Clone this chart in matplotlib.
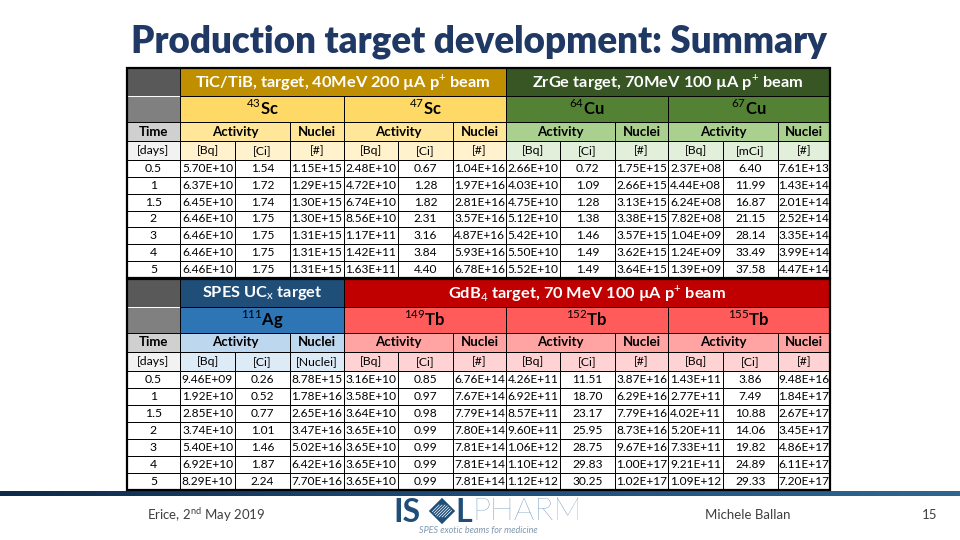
import matplotlib
matplotlib.use("Agg")
import matplotlib.pyplot as plt
from matplotlib.patches import Rectangle, Polygon
from matplotlib.colors import LinearSegmentedColormap
import numpy as np

plt.rcParams['font.family'] = ['Lato', 'DejaVu Sans']
plt.rcParams['mathtext.fontset'] = 'custom'
plt.rcParams['mathtext.rm'] = 'Lato'
plt.rcParams['mathtext.bf'] = 'Lato:bold'

# ---------------- data ----------------
time_days = ["0.5", "1", "1.5", "2", "3", "4", "5"]

sc43_bq = [5.70e10, 6.37e10, 6.45e10, 6.46e10, 6.46e10, 6.46e10, 6.46e10]
sc43_ci = [1.54, 1.72, 1.74, 1.75, 1.75, 1.75, 1.75]
sc43_n = [1.15e15, 1.29e15, 1.30e15, 1.30e15, 1.31e15, 1.31e15, 1.31e15]

sc47_bq = [2.48e10, 4.72e10, 6.74e10, 8.56e10, 1.17e11, 1.42e11, 1.63e11]
sc47_ci = [0.67, 1.28, 1.82, 2.31, 3.16, 3.84, 4.40]
sc47_n = [1.04e16, 1.97e16, 2.81e16, 3.57e16, 4.87e16, 5.93e16, 6.78e16]

cu64_bq = [2.66e10, 4.03e10, 4.75e10, 5.12e10, 5.42e10, 5.50e10, 5.52e10]
cu64_ci = [0.72, 1.09, 1.28, 1.38, 1.46, 1.49, 1.49]
cu64_n = [1.75e15, 2.66e15, 3.13e15, 3.38e15, 3.57e15, 3.62e15, 3.64e15]

cu67_bq = [2.37e8, 4.44e8, 6.24e8, 7.82e8, 1.04e9, 1.24e9, 1.39e9]
cu67_mci = [6.40, 11.99, 16.87, 21.15, 28.14, 33.49, 37.58]
cu67_n = [7.61e13, 1.43e14, 2.01e14, 2.52e14, 3.35e14, 3.99e14, 4.47e14]

ag111_bq = [9.46e9, 1.92e10, 2.85e10, 3.74e10, 5.40e10, 6.92e10, 8.29e10]
ag111_ci = [0.26, 0.52, 0.77, 1.01, 1.46, 1.87, 2.24]
ag111_n = [8.78e15, 1.78e16, 2.65e16, 3.47e16, 5.02e16, 6.42e16, 7.70e16]

tb149_bq = [3.16e10, 3.58e10, 3.64e10, 3.65e10, 3.65e10, 3.65e10, 3.65e10]
tb149_ci = [0.85, 0.97, 0.98, 0.99, 0.99, 0.99, 0.99]
tb149_n = [6.76e14, 7.67e14, 7.79e14, 7.80e14, 7.81e14, 7.81e14, 7.81e14]

tb152_bq = [4.26e11, 6.92e11, 8.57e11, 9.60e11, 1.06e12, 1.10e12, 1.12e12]
tb152_ci = [11.51, 18.70, 23.17, 25.95, 28.75, 29.83, 30.25]
tb152_n = [3.87e16, 6.29e16, 7.79e16, 8.73e16, 9.67e16, 1.00e17, 1.02e17]

tb155_bq = [1.43e11, 2.77e11, 4.02e11, 5.20e11, 7.33e11, 9.21e11, 1.09e12]
tb155_ci = [3.86, 7.49, 10.88, 14.06, 19.82, 24.89, 29.33]
tb155_n = [9.48e16, 1.84e17, 2.67e17, 3.45e17, 4.86e17, 6.11e17, 7.20e17]

# ---------------- figure ----------------
fig = plt.figure(figsize=(9.6, 5.4), dpi=100)
ax = fig.add_axes([0, 0, 1, 1])
ax.set_xlim(0, 960)
ax.set_ylim(540, 0)
ax.axis('off')

xs = [127, 180, 235, 290, 344, 398, 453, 506, 560, 615, 668, 723, 778, 830]

PAL = {
    'gray': ['#595959', '#808080', '#d0d0d0', '#f2f2f2'],
    'gold': ['#bf8f00', '#ffd966', '#ffe699', '#fff2cc'],
    'green': ['#375623', '#548235', '#a9d08e', '#e2efda'],
    'blue': ['#1f4e79', '#2e75b6', '#bdd7ee', '#ddebf7'],
    'red': ['#c00000', '#ff5b5b', '#ffa3a3', '#ffd3d3'],
}


def cell(c0, c1, y0, y1, fc, ec='black', lw=0.7):
    ax.add_patch(Rectangle((xs[c0], y0), xs[c1] - xs[c0], y1 - y0,
                           facecolor=fc, edgecolor=ec, linewidth=lw, zorder=1))


def ctext(c0, c1, y0, y1, s, color='black', size=8.5, weight='normal', dy=0.0):
    ax.text((xs[c0] + xs[c1]) / 2, (y0 + y1) / 2 + dy, s, ha='center', va='center',
            color=color, fontsize=size, fontweight=weight, zorder=3)


def fmt_e(v):
    return f"{v:.2E}"


def draw_table(rows, titles, isotopes, units, cols, data_y0, data_y1):
    r0, r1, r2, r3 = rows
    cell(0, 1, r0, r1, PAL['gray'][0], ec='white')
    cell(0, 1, r1, r2, PAL['gray'][1], ec='white')
    cell(0, 1, r2, r3, PAL['gray'][2])
    cell(0, 1, r3, data_y0, PAL['gray'][3])
    ctext(0, 1, r2, r3, 'Time', size=9.5, weight='bold')
    ctext(0, 1, r3, data_y0, '[days]', size=8.8)
    for (c0, c1, label, pal) in titles:
        cell(c0, c1, r0, r1, PAL[pal][0], ec='black')
        ctext(c0, c1, r0, r1, label, color='white', size=11.8, weight='bold')
    for k, (label, pal) in enumerate(isotopes):
        c0 = 1 + 3 * k
        cell(c0, c0 + 3, r1, r2, PAL[pal][1], ec='black')
        ctext(c0, c0 + 3, r1, r2, label, size=12, dy=-1)
        cell(c0, c0 + 2, r2, r3, PAL[pal][2])
        cell(c0 + 2, c0 + 3, r2, r3, PAL[pal][2])
        ctext(c0, c0 + 2, r2, r3, 'Activity', size=9.5, weight='bold')
        ctext(c0 + 2, c0 + 3, r2, r3, 'Nuclei', size=9.5, weight='bold')
        for j in range(3):
            cell(c0 + j, c0 + j + 1, r3, data_y0, PAL[pal][3])
            ctext(c0 + j, c0 + j + 1, r3, data_y0, units[k][j], size=8.8)
    nrow = len(time_days)
    h = (data_y1 - data_y0) / nrow
    for i in range(nrow):
        y0 = data_y0 + i * h
        y1 = y0 + h
        cell(0, 1, y0, y1, 'white')
        ctext(0, 1, y0, y1, time_days[i], size=8.8)
        for k, (bq, ci, nn) in enumerate(cols):
            c0 = 1 + 3 * k
            vals = [fmt_e(bq[i]), f"{ci[i]:.2f}", fmt_e(nn[i])]
            for j in range(3):
                cell(c0 + j, c0 + j + 1, y0, y1, 'white')
                ctext(c0 + j, c0 + j + 1, y0, y1, vals[j], size=8.6)
    ax.add_patch(Rectangle((xs[0], r0), xs[-1] - xs[0], data_y1 - r0, fill=False,
                           edgecolor='black', linewidth=1.6, zorder=4))


draw_table(
    (68, 96, 122, 141),
    [(1, 7, 'TiC/TiB, target, 40MeV 200 \u00b5A p$^{+}$ beam', 'gold'),
     (7, 13, 'ZrGe target, 70MeV 100 \u00b5A p$^{+}$ beam', 'green')],
    [(r'$^{43}\mathbf{Sc}$', 'gold'), (r'$^{47}\mathbf{Sc}$', 'gold'),
     (r'$^{64}\mathbf{Cu}$', 'green'), (r'$^{67}\mathbf{Cu}$', 'green')],
    [['[Bq]', '[Ci]', '[#]'], ['[Bq]', '[Ci]', '[#]'],
     ['[Bq]', '[Ci]', '[#]'], ['[Bq]', '[mCi]', '[#]']],
    [(sc43_bq, sc43_ci, sc43_n), (sc47_bq, sc47_ci, sc47_n),
     (cu64_bq, cu64_ci, cu64_n), (cu67_bq, cu67_mci, cu67_n)],
    160, 278)

draw_table(
    (279, 307, 333, 352),
    [(1, 4, r'SPES UC$_{\mathrm{x}}$ target', 'blue'),
     (4, 13, 'GdB$_{4}$ target, 70 MeV 100 \u00b5A p$^{+}$ beam', 'red')],
    [(r'$^{111}\mathbf{Ag}$', 'blue'), (r'$^{149}\mathbf{Tb}$', 'red'),
     (r'$^{152}\mathbf{Tb}$', 'red'), (r'$^{155}\mathbf{Tb}$', 'red')],
    [['[Bq]', '[Ci]', '[Nuclei]'], ['[Bq]', '[Ci]', '[#]'],
     ['[Bq]', '[Ci]', '[#]'], ['[Bq]', '[Ci]', '[#]']],
    [(ag111_bq, ag111_ci, ag111_n), (tb149_bq, tb149_ci, tb149_n),
     (tb152_bq, tb152_ci, tb152_n), (tb155_bq, tb155_ci, tb155_n)],
    371, 490)

# ---------------- title ----------------
ax.text(479, 42, 'Production target development: Summary', ha='center', va='center',
        fontsize=26.5, fontweight='heavy', color='#1f3864', zorder=5)

# ---------------- footer band ----------------
grad = np.linspace(0, 1, 256).reshape(1, -1)
cmap = LinearSegmentedColormap.from_list('band', ['#0d2a4a', '#1f4e79', '#2f6690'])
ax.imshow(grad, extent=(0, 960, 496, 491), aspect='auto', cmap=cmap, zorder=0)

ax.text(206, 515, 'Erice, 2$^{\\mathrm{nd}}$ May 2019', ha='center', va='center',
        fontsize=9.5, color='#404040')
ax.text(748, 515, 'Michele Ballan', ha='center', va='center', fontsize=9.5, color='#404040')
ax.text(930, 515, '15', ha='center', va='center', fontsize=9.5, color='#404040')

# logo
logo_c = '#1f4e79'
ax.text(393, 512, 'IS', ha='left', va='center', fontsize=23, fontweight='bold', color=logo_c)
diamond = [(430, 511), (442, 499), (454, 511), (442, 523)]
ax.add_patch(Polygon(diamond, closed=True, facecolor=logo_c, edgecolor='none', zorder=2))
for k in range(-3, 4):
    ax.plot([442 + 3 * k - 6, 442 + 3 * k + 6], [511 + 6, 511 - 6], color='white',
            lw=0.5, zorder=3)
ax.add_patch(Polygon(diamond, closed=True, facecolor='none', edgecolor=logo_c, lw=1.2,
                     zorder=4))
ax.text(455, 512, 'L', ha='left', va='center', fontsize=23, fontweight='bold', color=logo_c)
ax.text(472, 512, 'PHARM', ha='left', va='center', fontsize=23, fontweight='light',
        color='#4a7fb0')
ax.text(478, 531, 'SPES exotic beams for medicine', ha='center', va='center', fontsize=6.5,
        style='italic', color='#7f98b0')

fig.savefig('out.png', dpi=100)
